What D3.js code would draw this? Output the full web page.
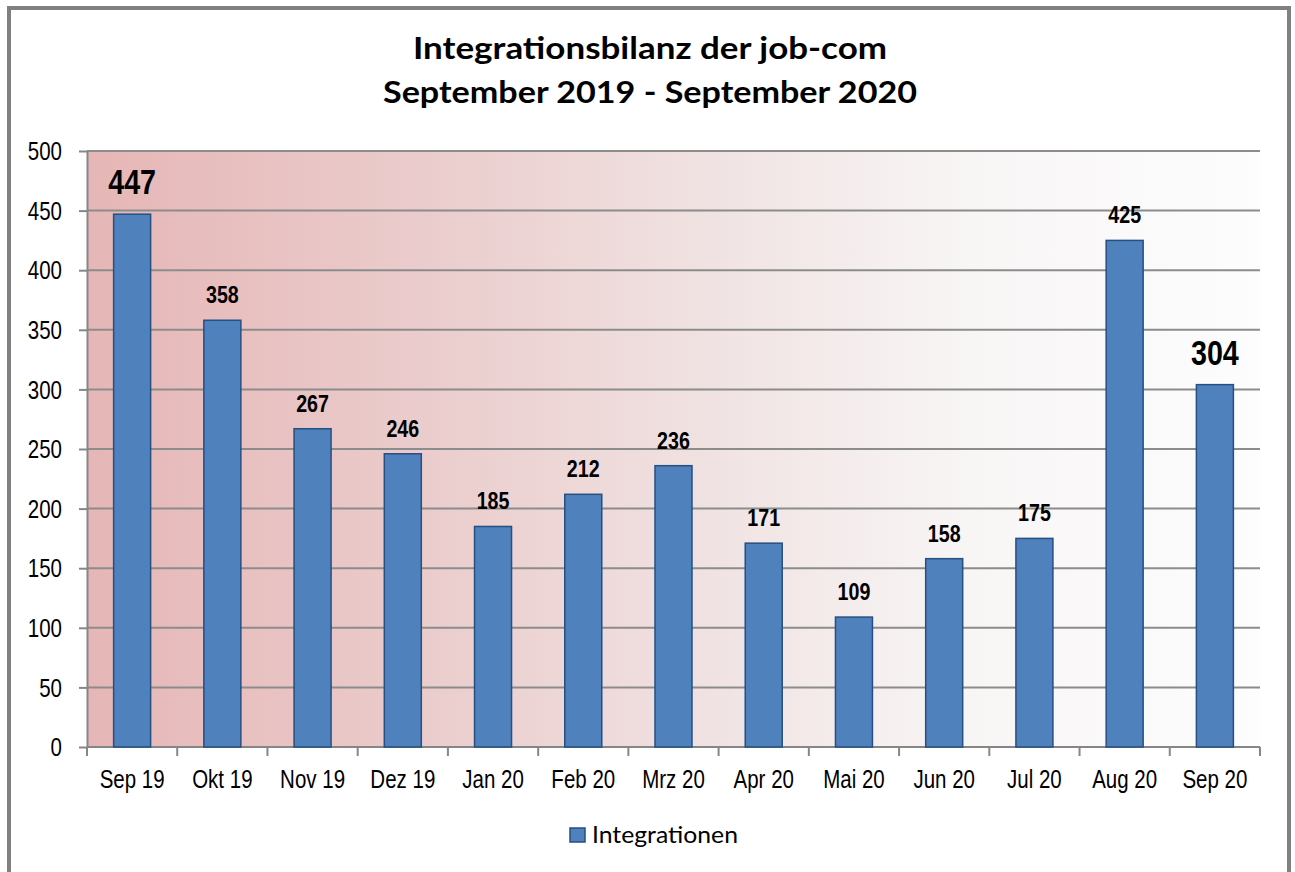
<!DOCTYPE html>
<html><head><meta charset="utf-8">
<script src="https://cdn.jsdelivr.net/npm/d3@7"></script>
<style>html,body{margin:0;padding:0;background:#fff;}svg{display:block;}</style>
</head><body>
<script>
const categories = ["Sep 19","Okt 19","Nov 19","Dez 19","Jan 20","Feb 20","Mrz 20","Apr 20","Mai 20","Jun 20","Jul 20","Aug 20","Sep 20"];
const values = [447,358,267,246,185,212,236,171,109,158,175,425,304];
const highlighted = ["Sep 19","Sep 20"];
const yTicks = [0,50,100,150,200,250,300,350,400,450,500];
const titleLines = ["Integrationsbilanz der job-com","September 2019 - September 2020"];
const seriesName = "Integrationen";

const W = 1295, H = 872;
const svg = d3.select("body").append("svg").attr("width", W).attr("height", H);

// outer frame
svg.append("rect").attr("x", 9).attr("y", 8).attr("width", 1280).attr("height", 880)
  .attr("fill", "#fff").attr("stroke", "#808080").attr("stroke-width", 4);

const m = {left: 87, right: 1260, top: 151, bottom: 747};
const x = d3.scaleBand().domain(categories).range([m.left, m.right]).paddingInner(0.59).paddingOuter(0.295);
const xb = d3.scaleBand().domain(categories).range([m.left, m.right]).padding(0);
const y = d3.scaleLinear().domain([0, 500]).range([m.bottom, m.top]);

const defs = svg.append("defs");
const grad = defs.append("linearGradient").attr("id", "bg").attr("x1", 0).attr("x2", 1).attr("y1", 0).attr("y2", 0);
grad.append("stop").attr("offset", 0).attr("stop-color", "#e6b6b6");
grad.append("stop").attr("offset", 0.3).attr("stop-color", "#ebcdcd");
grad.append("stop").attr("offset", 0.55).attr("stop-color", "#f1e4e4");
grad.append("stop").attr("offset", 0.75).attr("stop-color", "#f8f5f5");
grad.append("stop").attr("offset", 1).attr("stop-color", "#fdfdfd");

svg.append("rect").attr("x", m.left).attr("y", m.top).attr("width", m.right - m.left).attr("height", m.bottom - m.top)
  .attr("fill", "url(#bg)");

// gridlines
svg.append("g").selectAll("line").data(yTicks.filter(d => d > 0)).join("line")
  .attr("x1", m.left).attr("x2", m.right).attr("y1", d => y(d)).attr("y2", d => y(d))
  .attr("stroke", "#8c8c8c").attr("stroke-width", 2);

// y axis
const yAxis = svg.append("g").attr("transform", `translate(${m.left},0)`)
  .call(d3.axisLeft(y).tickValues(yTicks).tickSize(8).tickPadding(0).tickSizeOuter(0));
yAxis.select(".domain").attr("stroke", "#868686").attr("stroke-width", 2);
yAxis.selectAll(".tick line").attr("stroke", "#868686").attr("stroke-width", 2);
yAxis.selectAll(".tick text").attr("font-family", "'Liberation Sans', Arial, sans-serif").attr("font-size", 25)
  .attr("fill", "#000").attr("dy", "0.35em")
  .attr("transform", "translate(-25,0) scale(0.82,1)").attr("x", 0).attr("text-anchor", "end");

// x axis baseline and boundary ticks
svg.append("line").attr("x1", m.left).attr("x2", m.right).attr("y1", m.bottom).attr("y2", m.bottom)
  .attr("stroke", "#868686").attr("stroke-width", 2);
const bounds = categories.map(c => xb(c)).concat([m.right]);
svg.append("g").selectAll("line").data(bounds).join("line")
  .attr("x1", d => d).attr("x2", d => d).attr("y1", m.bottom).attr("y2", m.bottom + 9)
  .attr("stroke", "#868686").attr("stroke-width", 2);
svg.append("g").selectAll("text").data(categories).join("text")
  .attr("transform", d => `translate(${xb(d) + xb.bandwidth()/2},788) scale(0.82,1)`)
  .attr("text-anchor", "middle").attr("font-family", "'Liberation Sans', Arial, sans-serif")
  .attr("font-size", 25).attr("fill", "#000").text(d => d);

// bars
svg.append("g").selectAll("rect").data(categories).join("rect")
  .attr("x", d => x(d)).attr("width", x.bandwidth())
  .attr("y", (d, i) => y(values[i])).attr("height", (d, i) => y(0) - y(values[i]))
  .attr("fill", "#4f81bd").attr("stroke", "#264f82").attr("stroke-width", 1.5);

// value labels
svg.append("g").selectAll("text").data(categories).join("text")
  .attr("transform", (d, i) => `translate(${x(d) + x.bandwidth()/2},${y(values[i]) - (highlighted.includes(d) ? 20 : 17)}) scale(0.82,1)`)
  .attr("text-anchor", "middle").attr("font-family", "'Liberation Sans', Arial, sans-serif")
  .attr("font-weight", "bold").attr("font-size", d => highlighted.includes(d) ? 35 : 24)
  .attr("fill", "#000").text((d, i) => values[i]);

// title
const tl = svg.append("g");
tl.selectAll("text").data(titleLines).join("text")
  .attr("x", 650).attr("y", (d, i) => 59 + i * 44)
  .attr("text-anchor", "middle").attr("font-family", "Lato, 'Open Sans', sans-serif")
  .attr("font-weight", "bold").attr("font-size", 30).attr("fill", "#000")
  .attr("textLength", (d, i) => i === 0 ? 474 : 534).attr("lengthAdjust", "spacingAndGlyphs")
  .text(d => d);

// legend
const lg = svg.append("g");
lg.append("rect").attr("x", 570).attr("y", 828).attr("width", 15).attr("height", 14)
  .attr("fill", "#4f81bd").attr("stroke", "#264f82").attr("stroke-width", 1.5);
lg.append("text").attr("x", 592).attr("y", 843).attr("font-family", "Lato, 'Open Sans', sans-serif")
  .attr("font-size", 23).attr("fill", "#000").attr("textLength", 146).attr("lengthAdjust", "spacingAndGlyphs")
  .text(seriesName);
</script>
</body></html>
